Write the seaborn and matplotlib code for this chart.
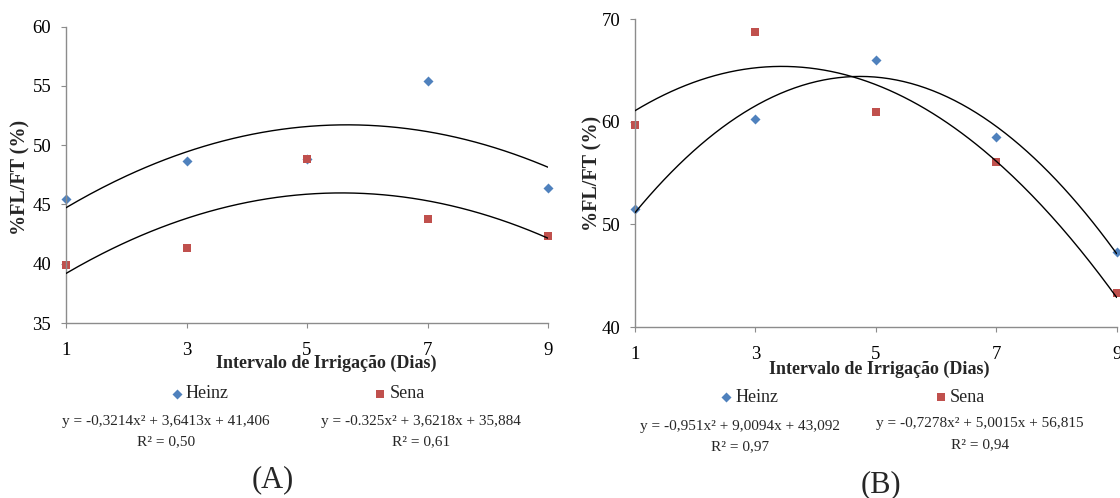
import numpy as np
import pandas as pd
import matplotlib.pyplot as plt
import seaborn as sns

# ---------------------------------------------------
# Data
# ---------------------------------------------------

dias = [1, 3, 5, 7, 9]

# panel (A)
heinz_a = [45.5, 48.7, 48.8, 55.4, 46.4]
sena_a = [39.9, 41.3, 48.8, 43.8, 42.3]

# panel (B)
heinz_b = [51.5, 60.3, 66.0, 58.5, 47.3]
sena_b = [59.7, 68.8, 61.0, 56.1, 43.3]

# trend line coefficients (x², x, 1) as printed under each chart
coef_heinz_a = [-0.3214, 3.6413, 41.406]
coef_sena_a = [-0.325, 3.6218, 35.884]
coef_heinz_b = [-0.951, 9.0094, 43.092]
coef_sena_b = [-0.7278, 5.0015, 56.815]

eq_heinz_a = ("y = -0,3214x² + 3,6413x + 41,406", "R² = 0,50")
eq_sena_a = ("y = -0.325x² + 3,6218x + 35,884", "R² = 0,61")
eq_heinz_b = ("y = -0,951x² + 9,0094x + 43,092", "R² = 0,97")
eq_sena_b = ("y = -0,7278x² + 5,0015x + 56,815", "R² = 0,94")

yticks_a = [35, 40, 45, 50, 55, 60]
yticks_b = [40, 50, 60, 70]

xlabel = "Intervalo de Irrigação (Dias)"
ylabel = "%FL/FT (%)"

# ---------------------------------------------------
# Style
# ---------------------------------------------------

sns.set_theme(style="white")
plt.rcParams["font.family"] = ["Liberation Serif", "DejaVu Serif"]

W, H = 1120, 498
BLUE = "#4F81BD"
RED = "#C0504D"
GRAY = "#8C8C8C"


def fx(x):
    return x / W


def fy(y):
    return 1 - y / H


fig = plt.figure(figsize=(W / 100, H / 100), dpi=100)


def panel(box, heinz, sena, c_heinz, c_sena, yticks, ylim):
    left, top, right, bottom = box
    ax = fig.add_axes([fx(left), fy(bottom), (right - left) / W, (bottom - top) / H])

    df = pd.DataFrame({"dia": dias * 2,
                       "valor": heinz + sena,
                       "cultivar": ["Heinz"] * 5 + ["Sena"] * 5})

    sns.scatterplot(data=df[df.cultivar == "Heinz"], x="dia", y="valor",
                    marker="D", s=26, color=BLUE, linewidth=0,
                    label="Heinz", ax=ax, clip_on=False, zorder=2)
    sns.scatterplot(data=df[df.cultivar == "Sena"], x="dia", y="valor",
                    marker="s", s=40, color=RED, linewidth=0,
                    label="Sena", ax=ax, clip_on=False, zorder=2)

    # quadratic trend lines from the printed equations
    xs = np.linspace(1, 9, 200)
    for c in (c_heinz, c_sena):
        sns.lineplot(x=xs, y=np.polyval(c, xs), color="black",
                     linewidth=1, ax=ax, zorder=3)

    ax.set_xlim(1, 9)
    ax.set_ylim(*ylim)
    ax.set_xticks(dias)
    ax.set_yticks(yticks)
    ax.set_xlabel("")
    ax.set_ylabel("")

    for s in ("top", "right"):
        ax.spines[s].set_visible(False)
    for s in ("left", "bottom"):
        ax.spines[s].set_color(GRAY)
        ax.spines[s].set_linewidth(1)

    ax.tick_params(axis="both", direction="out", length=3.6, width=0.8,
                   color=GRAY, labelsize=13.5, labelcolor="black")
    ax.tick_params(axis="x", pad=10)
    ax.tick_params(axis="y", pad=7)
    ax.tick_params(left=True, bottom=True)
    return ax


ax_a = panel((66, 26.7, 548, 323), heinz_a, sena_a,
             coef_heinz_a, coef_sena_a, yticks_a, (35, 60))
ax_b = panel((635, 19.3, 1116.7, 327), heinz_b, sena_b,
             coef_heinz_b, coef_sena_b, yticks_b, (40, 70))

# legends
for ax, (cx, cy), cs in ((ax_a, (298, 394), 8.1), (ax_b, (853, 397), 8.7)):
    ax.legend(loc="center", bbox_to_anchor=(fx(cx), fy(cy)),
              bbox_transform=fig.transFigure, ncol=2, frameon=False,
              fontsize=13, handlelength=0.6, handletextpad=0.2,
              columnspacing=cs, borderpad=0, scatterpoints=1)

# axis titles
for x, y in ((326, 363), (879, 369)):
    fig.text(fx(x), fy(y), xlabel, ha="center", va="center",
             fontsize=13, fontweight="bold")
for x, y in ((20, 177), (592, 173)):
    fig.text(fx(x), fy(y), ylabel, ha="center", va="center",
             fontsize=14.5, fontweight="bold", rotation=90)

# equations and R²
for (eq, r2), x, y1, y2 in ((eq_heinz_a, 166, 421.7, 441.7),
                            (eq_sena_a, 421, 421.7, 441.7),
                            (eq_heinz_b, 740, 426.7, 446.7),
                            (eq_sena_b, 980, 423.3, 445)):
    fig.text(fx(x), fy(y1), eq, ha="center", va="center", fontsize=11)
    fig.text(fx(x), fy(y2), r2, ha="center", va="center", fontsize=11)

# panel letters
fig.text(fx(273), fy(480), "(A)", ha="center", va="center", fontsize=22)
fig.text(fx(881), fy(485), "(B)", ha="center", va="center", fontsize=22)

fig.savefig("out.png", dpi=100)
